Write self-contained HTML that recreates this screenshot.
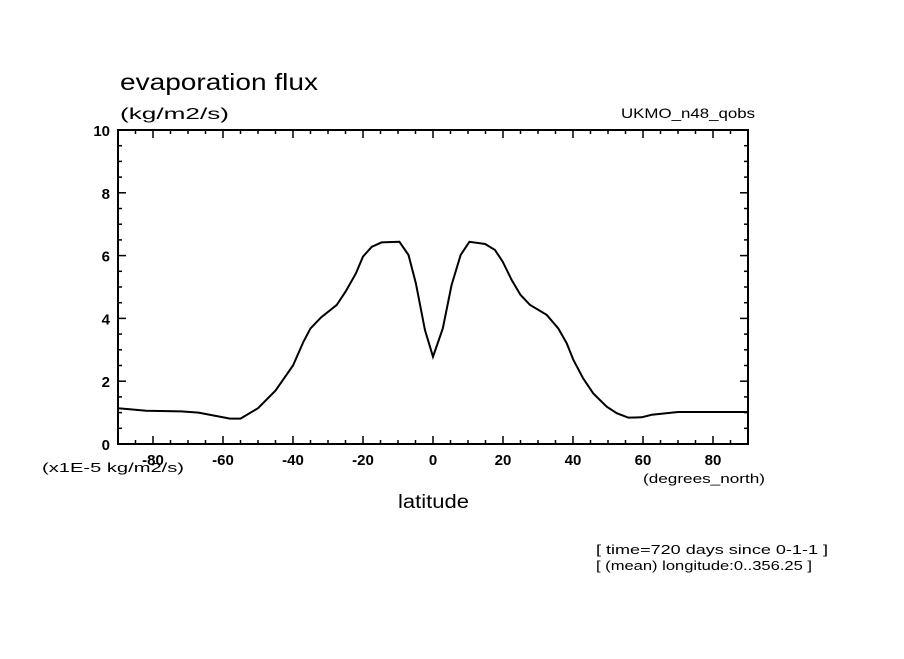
<!DOCTYPE html>
<html><head><meta charset="utf-8"><style>
body{margin:0;background:#fff;}
svg text{font-family:"Liberation Sans",sans-serif;fill:#000;}
</style></head><body>
<svg id="chart" width="904" height="654" xmlns="http://www.w3.org/2000/svg">
<rect width="904" height="654" fill="#fff"/>
<text x="120" y="90" font-size="23" textLength="198" lengthAdjust="spacingAndGlyphs">evaporation flux</text>
<text x="120" y="119" font-size="16" textLength="109" lengthAdjust="spacingAndGlyphs">(kg/m2/s)</text>
<text x="621" y="118" font-size="14" textLength="134" lengthAdjust="spacingAndGlyphs">UKMO_n48_qobs</text>
<text x="42" y="472" font-size="13" textLength="142" lengthAdjust="spacingAndGlyphs">(x1E-5 kg/m2/s)</text>
<text x="643" y="483" font-size="13" textLength="122" lengthAdjust="spacingAndGlyphs">(degrees_north)</text>
<text x="398" y="508" font-size="19" textLength="71" lengthAdjust="spacingAndGlyphs">latitude</text>
<text x="596" y="554" font-size="13" textLength="232" lengthAdjust="spacingAndGlyphs">[ time=720 days since 0-1-1 ]</text>
<text x="596" y="570" font-size="13" textLength="216" lengthAdjust="spacingAndGlyphs">[ (mean) longitude:0..356.25 ]</text>
<g id="axes"></g>
<rect x="118" y="130" width="630" height="314" fill="none" stroke="#000" stroke-width="2"/>
</svg>
<script>
const lats=[-90,-82,-72,-67,-58,-55,-50,-45,-40,-37,-35,-32,-27.5,-25,-22,-20,-17.5,-14.7,-9.6,-7,-4.9,-2.3,0,2.8,5.3,7.9,10.4,14.9,17.7,19.9,22.5,25,27.7,32.5,35.8,38.2,40.1,42.9,45.8,49.6,52.5,55.8,59.6,62.5,70,90];
const flux=[1.14,1.06,1.04,1.0,0.81,0.81,1.14,1.70,2.5,3.26,3.68,4.03,4.43,4.85,5.44,5.97,6.28,6.42,6.44,6.02,5.12,3.63,2.78,3.68,5.06,6.02,6.44,6.37,6.18,5.81,5.22,4.75,4.43,4.11,3.68,3.21,2.68,2.09,1.61,1.19,0.98,0.84,0.85,0.93,1.02,1.02];
const xTicks=[-80,-60,-40,-20,0,20,40,60,80];
const yTicks=[0,2,4,6,8,10];
const X0=118,X1=748,Y0=444,Y1=130;
function sx(v){return X0+(v+90)/180*(X1-X0);}
function sy(v){return Y0-v/10*(Y0-Y1);}
const NS="http://www.w3.org/2000/svg";
const g=document.getElementById('axes');
function ln(x1,y1,x2,y2,w){const l=document.createElementNS(NS,'line');l.setAttribute('x1',x1);l.setAttribute('y1',y1);l.setAttribute('x2',x2);l.setAttribute('y2',y2);l.setAttribute('stroke','#000');l.setAttribute('stroke-width',w);


g.appendChild(l);}
for(let v=-90;v<=90;v+=5){const x=sx(v);const L=(v%20===0)?8:4;ln(x,Y0,x,Y0-L,1.5);ln(x,Y1,x,Y1+L,1.5);}
for(let v=0;v<=10;v+=0.5){const y=sy(v);const L=(v%2===0)?8:4;ln(X0,y,X0+L,y,1.5);ln(X1,y,X1-L,y,1.5);}
xTicks.forEach(v=>{const t=document.createElementNS(NS,'text');t.setAttribute('x',sx(v));t.setAttribute('y',465);t.setAttribute('font-size','15');t.setAttribute('font-weight','bold');t.setAttribute('text-anchor','middle');t.textContent=v;


g.appendChild(t);});
yTicks.forEach(v=>{const t=document.createElementNS(NS,'text');t.setAttribute('x',110);t.setAttribute('y',sy(v)+6);t.setAttribute('font-size','15');t.setAttribute('font-weight','bold');t.setAttribute('text-anchor','end');t.textContent=v;


g.appendChild(t);});
const p=document.createElementNS(NS,'polyline');
p.setAttribute('points',lats.map((v,i)=>sx(v)+','+sy(flux[i])).join(' '));
p.setAttribute('fill','none');p.setAttribute('stroke','#000');p.setAttribute('stroke-width','2');


g.appendChild(p);
</script>
</body></html>
